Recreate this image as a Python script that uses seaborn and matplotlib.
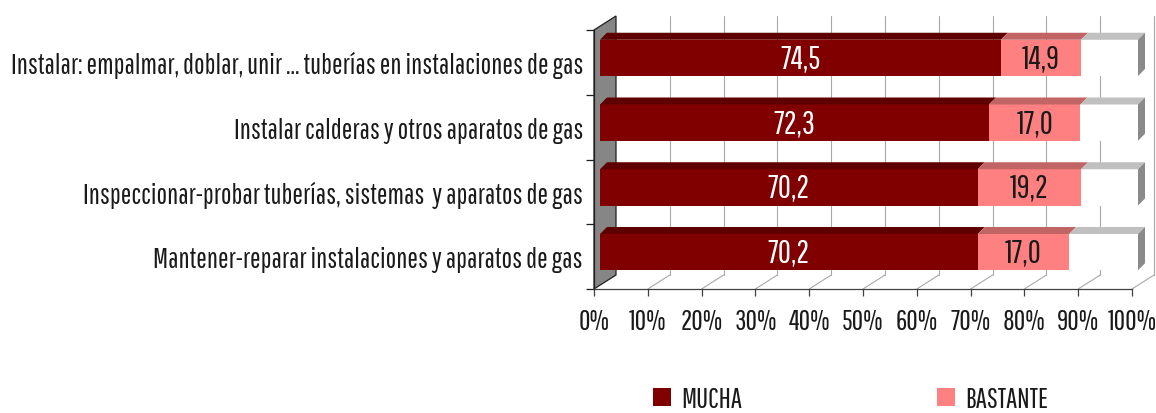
import matplotlib
matplotlib.use("Agg")
import matplotlib.pyplot as plt
from matplotlib import font_manager
from matplotlib.patches import Polygon, Patch
import pandas as pd
import seaborn as sns

# ---- data -------------------------------------------------------------
categories = [
    "Instalar: empalmar, doblar, unir ... tuberías en instalaciones de gas",
    "Instalar calderas y otros aparatos de gas",
    "Inspeccionar-probar tuberías, sistemas  y aparatos de gas",
    "Mantener-reparar instalaciones y aparatos de gas",
]
mucha = [74.5, 72.3, 70.2, 70.2]
bastante = [14.9, 17.0, 19.2, 17.0]
series_names = ["MUCHA", "BASTANTE"]
x_ticks = [0, 10, 20, 30, 40, 50, 60, 70, 80, 90, 100]
x_tick_labels = [f"{t}%" for t in x_ticks]

# ---- style ------------------------------------------------------------
c_mucha, c_mucha_top = "#800000", "#5e0000"
c_bast, c_bast_top = "#ff8080", "#c06464"
c_rest, c_rest_top, c_rest_side = "#ffffff", "#c0c0c0", "#8a8a8a"
c_wall = "#868686"
c_grid = "#a8a8a8"
c_text = "#1a1a1a"

sns.set_theme(style="white")
installed = {f.name for f in font_manager.fontManager.ttflist}
family = next(f for f in ["Pathway Gothic One", "Sofia Sans Extra Condensed",
                          "Fira Sans Extra Condensed", "DejaVu Sans"] if f in installed)
plt.rcParams["font.family"] = [family, "DejaVu Sans"]

W, H = 1156, 414
fig = plt.figure(figsize=(W / 100, H / 100), dpi=100)
fig.patch.set_facecolor("white")

# front plane of the 3-D box: 0..100 % horizontally, category bands vertically
X0, X1, Y0, Y1 = 594, 1132, 31, 290
ax = fig.add_axes([X0 / W, 1 - Y1 / H, (X1 - X0) / W, (Y1 - Y0) / H])
n = len(categories)
px_x = 100.0 / (X1 - X0)
px_y = n / (Y1 - Y0)


def P(x, y, off):
    """Oblique projection: shift a front-plane point by (dx, dy) pixels into depth."""
    return (x + off[0] * px_x, y - off[1] * px_y)


BAR_FRONT = (6, 4.5)
BAR_BACK = (13, 11.5)
BACK = (22, 14)
BAR_H = 0.56

# font size chosen so the longest category label fills the label column
probe = fig.text(0, 0, categories[0], fontsize=10)
r = fig.canvas.get_renderer()
w10 = probe.get_window_extent(r).width
probe.remove()
FS = 10 * 571 / w10
FS_VAL = FS * 1.15

# ---- bars (front faces) -----------------------------------------------
df = pd.DataFrame({"categoria": categories, "MUCHA": mucha, "BASTANTE": bastante})
df["acum"] = df["MUCHA"] + df["BASTANTE"]
df["total"] = 100.0

for col, colr in [("total", c_rest), ("acum", c_bast), ("MUCHA", c_mucha)]:
    sns.barplot(data=df, y="categoria", x=col, order=categories, color=colr,
                saturation=1, width=BAR_H, errorbar=None, ax=ax, zorder=3)
for p in ax.patches:
    p.set_x(p.get_x() + BAR_FRONT[0] * px_x)
    p.set_y(p.get_y() - BAR_FRONT[1] * px_y)
    p.set_edgecolor("none")
    p.set_linewidth(0)

# ---- box: left wall, floor, back-wall gridlines ------------------------
top, bot = -0.5, n - 0.5
wall = Polygon([P(0, top, (0, 0)), P(0, top, BACK), P(0, bot, BACK), P(0, bot, (0, 0))],
               closed=True, facecolor=c_wall, edgecolor="#202020", lw=0.9, zorder=1)
ax.add_patch(wall)
for t in x_ticks[1:]:
    xb, yt = P(t, top, BACK)
    _, yb = P(t, bot, BACK)
    ax.plot([xb, xb], [yt, yb], color=c_grid, lw=0.8, zorder=0.5, clip_on=False)
    fx, fy = P(t, bot, (0, 0))
    ax.plot([fx, xb], [fy, yb], color=c_grid, lw=0.8, zorder=0.5, clip_on=False)

# ---- top and side faces of the bars ------------------------------------
for i in range(n):
    edges = [0, mucha[i], mucha[i] + bastante[i], 100]
    tops = [c_mucha_top, c_bast_top, c_rest_top]
    yt = i - BAR_H / 2
    yb = i + BAR_H / 2
    for a, b, c in zip(edges[:-1], edges[1:], tops):
        ax.add_patch(Polygon([P(a, yt, BAR_FRONT), P(b, yt, BAR_FRONT),
                              P(b, yt, BAR_BACK), P(a, yt, BAR_BACK)],
                             closed=True, facecolor=c, edgecolor="none", zorder=3))
    ax.add_patch(Polygon([P(100, yt, BAR_FRONT), P(100, yt, BAR_BACK),
                          P(100, yb, BAR_BACK), P(100, yb, BAR_FRONT)],
                         closed=True, facecolor=c_rest_side, edgecolor="none", zorder=3))

    # value labels on the front faces
    for a, v, colr in [(0, mucha[i], "white"), (mucha[i], bastante[i], c_text)]:
        x, y = P(a + v / 2, i, BAR_FRONT)
        ax.text(x, y, f"{v:.1f}".replace(".", ","), ha="center", va="center",
                fontsize=FS_VAL, color=colr, zorder=4)

for art in ax.patches:
    art.set_clip_on(False)

# ---- axes -------------------------------------------------------------
ax.set_xlim(0, 100)
ax.set_ylim(bot, top)
ax.set_xlabel("")
ax.set_ylabel("")
ax.set_xticks(x_ticks)
ax.set_xticklabels(x_tick_labels)
ax.set_yticks(range(n))
ax.set_yticklabels(categories)
ax.set_yticks([top + k for k in range(n + 1)], minor=True)
ax.tick_params(axis="y", which="major", length=0, pad=8, labelsize=FS, labelcolor=c_text)
ax.tick_params(axis="y", which="minor", left=True, length=6, width=0.9, color="#202020")
ax.tick_params(axis="x", which="major", bottom=True, length=5, width=0.9, color="#404040",
               pad=9, labelsize=FS, labelcolor=c_text)
for s in ["top", "right"]:
    ax.spines[s].set_visible(False)
ax.spines["left"].set_color("#202020")
ax.spines["left"].set_linewidth(0.9)
ax.spines["bottom"].set_color("#404040")
ax.spines["bottom"].set_linewidth(0.9)
ax.patch.set_alpha(0)

# ---- legend -------------------------------------------------------------
fs_px = FS * 100 / 72
for name, colr, xpos in [(series_names[0], c_mucha, 653), (series_names[1], c_bast, 937)]:
    fig.legend(handles=[Patch(facecolor=colr, edgecolor="none")], labels=[name],
               loc="center left", bbox_to_anchor=(xpos / W, 1 - 400 / H),
               frameon=False, fontsize=FS, borderpad=0, borderaxespad=0,
               handlelength=18 / fs_px, handleheight=18 / fs_px,
               handletextpad=10 / fs_px, labelcolor=c_text)

fig.savefig("out.png", dpi=100, facecolor="white")
